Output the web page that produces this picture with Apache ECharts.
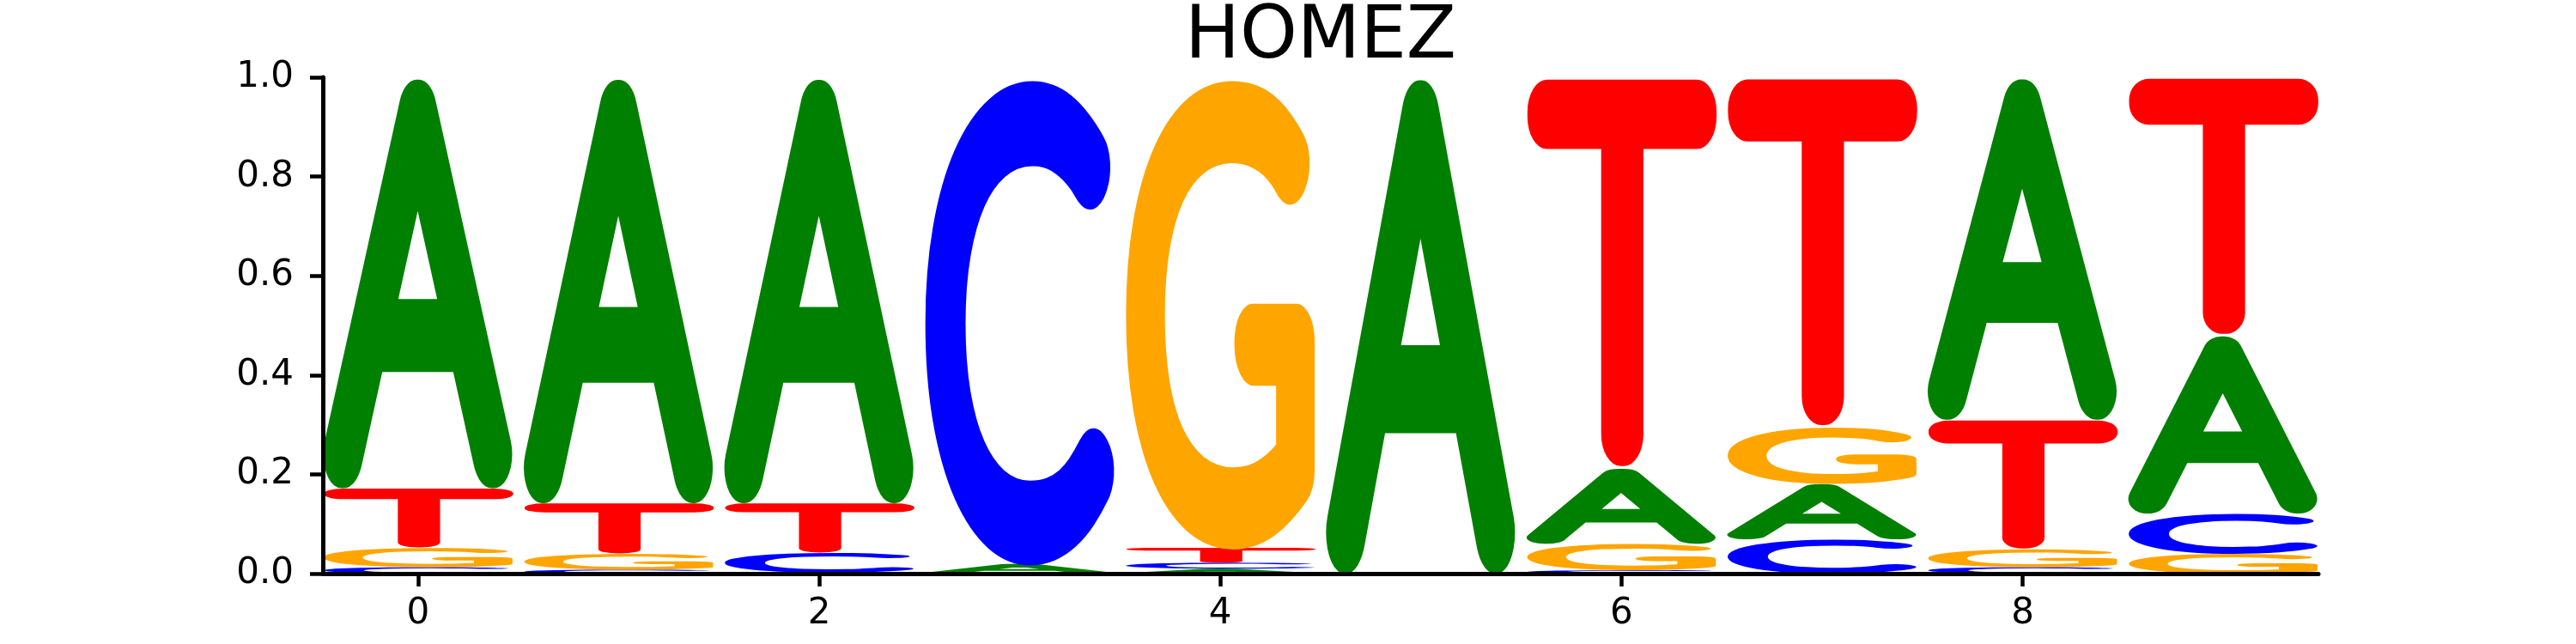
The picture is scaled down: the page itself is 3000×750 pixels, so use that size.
<!DOCTYPE html>
<html>
<head>
<meta charset="UTF-8">
<title>HOMEZ</title>
<script src="https://cdn.jsdelivr.net/npm/echarts@6/dist/echarts.min.js"></script>
<style>
  html, body { margin: 0; padding: 0; background: #fff; }
</style>
</head>
<body>
<div id="main" style="width:3000px;height:750px"></div>
<script>
// motif probabilities per position (logo stacks each column, smallest on the bottom)
var positions = [0, 1, 2, 3, 4, 5, 6, 7, 8, 9];
var probA = [0.828, 0.858, 0.858, 0.020, 0.010, 1.000, 0.152, 0.112, 0.690, 0.359];
var probC = [0.013, 0.008, 0.040, 0.980, 0.012, 0.000, 0.007, 0.069, 0.013, 0.081];
var probG = [0.039, 0.032, 0.002, 0.000, 0.948, 0.000, 0.053, 0.114, 0.036, 0.040];
var probT = [0.120, 0.102, 0.100, 0.000, 0.030, 0.000, 0.788, 0.705, 0.261, 0.520];
var letters = ['A', 'C', 'G', 'T'];
var xTicks = [0, 2, 4, 6, 8];
var yTicks = [0, 0.2, 0.4, 0.6, 0.8, 1.0];

var letterColors = { A: '#008000', C: '#0000ff', G: '#ffa500', T: '#ff0000' };
var glyphWidth = 0.95;
// a hairline face with a thick round-joined outline gives rounded letters
var glyphFont = '100 200px Lato';
var glyphStroke = 28;
var tickFont = '"DejaVu Sans"';

// ink box of each letter, measured with the same baseline zrender uses ('middle')
var cv = document.createElement('canvas');
var ctx = cv.getContext('2d');
ctx.font = glyphFont;
ctx.textAlign = 'left';
ctx.textBaseline = 'middle';
var metrics = {};
letters.forEach(function (l) {
    var m = ctx.measureText(l);
    var pad = glyphStroke / 2;
    metrics[l] = {
        left: m.actualBoundingBoxLeft + pad,
        right: m.actualBoundingBoxRight + pad,
        up: m.actualBoundingBoxAscent + pad,
        down: m.actualBoundingBoxDescent + pad
    };
});

// stack: [position, bottom, top, letter index]
var probs = { A: probA, C: probC, G: probG, T: probT };
var glyphData = [];
positions.forEach(function (p, i) {
    var col = letters.map(function (l, li) {
        return { li: li, v: probs[l][i] };
    }).filter(function (d) { return d.v > 0; });
    col.sort(function (a, b) { return a.v - b.v; });
    var base = 0;
    col.forEach(function (d) {
        glyphData.push([p, base, base + d.v, d.li]);
        base += d.v;
    });
});

function renderGlyph(params, api) {
    var pos = api.value(0), y0 = api.value(1), y1 = api.value(2);
    var l = letters[api.value(3)];
    var m = metrics[l];
    var p0 = api.coord([pos - glyphWidth / 2, y1]);
    var p1 = api.coord([pos + glyphWidth / 2, y0]);
    var w = p1[0] - p0[0], h = p1[1] - p0[1];
    var sx = w / (m.left + m.right);
    var sy = h / (m.up + m.down);
    return {
        type: 'text',
        x: p0[0] + m.left * sx,
        y: p0[1] + m.up * sy,
        scaleX: sx,
        scaleY: sy,
        silent: true,
        style: {
            text: l,
            font: glyphFont,
            fill: letterColors[l],
            stroke: letterColors[l],
            lineWidth: glyphStroke,
            align: 'left',
            verticalAlign: 'middle'
        }
    };
}

var myChart = echarts.init(document.getElementById('main'));
var option = {
    animation: false,
    backgroundColor: '#fff',
    title: {
        text: 'HOMEZ',
        left: 1375,
        top: -3,
        textStyle: { fontFamily: tickFont, fontSize: 85, fontWeight: 'normal', color: '#000' }
    },
    grid: { left: 376, right: 300, top: 90, bottom: 82, outerBoundsMode: 'none' },
    xAxis: {
        type: 'value',
        min: -0.475,
        max: 9.475,
        z: 5,
        splitLine: { show: false },
        axisLine: { show: true, onZero: false, lineStyle: { color: '#000', width: 5 } },
        axisTick: { show: true, customValues: xTicks, length: 15, lineStyle: { color: '#000', width: 4.5 } },
        axisLabel: {
            customValues: xTicks, margin: 26, fontSize: 42, fontFamily: tickFont, color: '#000'
        }
    },
    yAxis: {
        type: 'value',
        min: 0,
        max: 1,
        interval: 0.2,
        z: 5,
        splitLine: { show: false },
        axisLine: { show: true, onZero: false, lineStyle: { color: '#000', width: 5 } },
        axisTick: { show: true, customValues: yTicks, length: 15, lineStyle: { color: '#000', width: 4.5 } },
        axisLabel: {
            customValues: yTicks, margin: 34, fontSize: 42, fontFamily: tickFont, color: '#000',
            formatter: function (v) { return v.toFixed(1); }
        }
    },
    series: [{
        type: 'custom',
        renderItem: renderGlyph,
        encode: { x: 0, y: [1, 2] },
        data: glyphData,
        z: 2
    }]
};
myChart.setOption(option);

// the text element does not forward lineJoin to its spans, so set it on them directly
var zr = myChart.getZr();
zr.storage.getDisplayList(true).forEach(function (el) {
    if (el.type === 'tspan' && el.style.lineWidth === glyphStroke) {
        el.style.lineJoin = 'round';
        el.style.lineCap = 'round';
        el.markRedraw();
    }
});
zr.refreshImmediately();
</script>
</body>
</html>
